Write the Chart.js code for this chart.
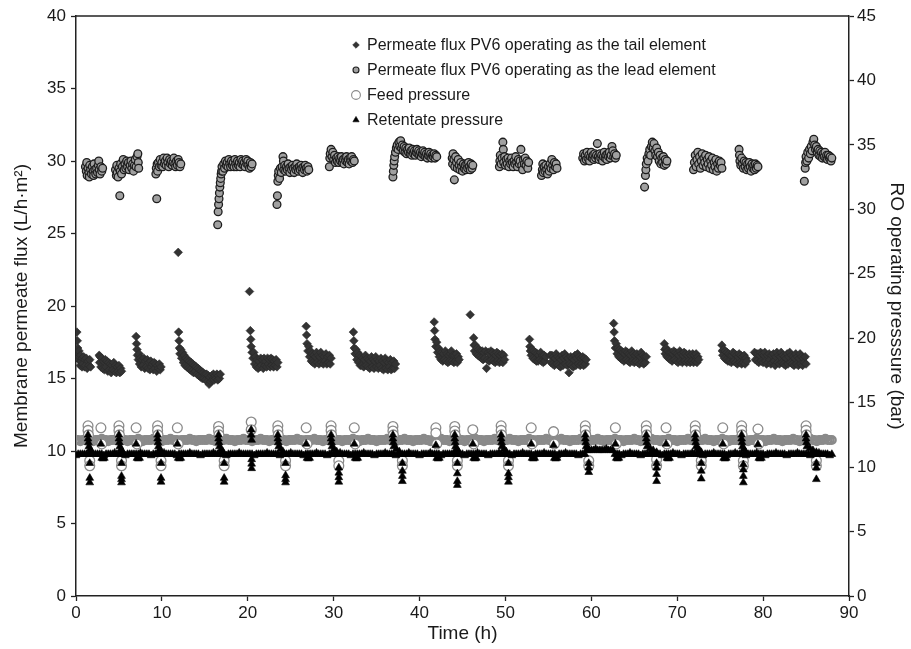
<!DOCTYPE html>
<html>
<head>
<meta charset="utf-8">
<script src="https://cdn.jsdelivr.net/npm/chart.js@4.4.1/dist/chart.umd.min.js"></script>
<style>
  html, body { margin: 0; padding: 0; background: #ffffff; }
  #wrap { width: 911px; height: 649px; }
</style>
</head>
<body>
<div id="wrap"><canvas id="chart" width="911" height="649"></canvas></div>
<script>
// Permeate flux of PV6, tail-element periods [hours, L/h·m²]
const tailFlux = [
  [0.1,18.2],[0.15,17.6],[0.2,17.1],[0.25,16.7],[0.3,16.3],[0.35,16.9],[0.4,16.5],[0.5,15.9],[0.55,16.6],[0.6,16.2],[0.7,15.8],[0.75,16.4],[0.8,16.0],[0.9,16.5],[1.0,15.8],[1.05,16.3],[1.1,15.9],[1.2,16.4],[1.3,15.7],[1.4,16.2],[1.5,15.9],[1.6,16.3],[1.7,15.8],
  [2.7,16.6],[2.75,16.1],[2.8,16.5],[2.9,15.8],[3.0,16.4],[3.1,15.7],[3.2,16.2],[3.3,15.6],[3.4,16.3],[3.5,15.8],[3.6,16.2],[3.7,15.5],[3.8,16.1],[3.9,15.6],[4.0,16.0],[4.1,15.4],[4.2,15.9],[4.3,15.6],[4.4,16.1],[4.5,15.5],[4.6,15.9],[4.7,15.4],[4.8,15.8],[4.9,15.5],[5.0,15.9],[5.1,15.4],[5.2,15.7],[5.3,15.5],
  [7.0,17.9],[7.05,17.4],[7.1,17.0],[7.15,16.6],[7.25,16.3],[7.35,16.7],[7.4,16.0],[7.5,16.4],[7.6,15.8],[7.7,16.3],[7.8,15.9],[7.9,16.4],[8.0,15.7],[8.1,16.2],[8.2,15.8],[8.3,16.3],[8.4,15.7],[8.5,16.1],[8.6,15.6],[8.7,16.2],[8.8,15.8],[8.9,16.0],[9.0,15.6],[9.1,16.1],[9.2,15.7],[9.3,16.0],[9.4,15.5],[9.5,15.9],[9.6,15.7],[9.7,16.0],[9.8,15.6],[9.9,15.8],
  [11.9,23.7],[11.95,18.2],[12.0,17.6],[12.05,17.1],[12.1,16.7],[12.2,17.0],[12.3,16.4],[12.4,16.8],[12.5,16.1],[12.6,16.6],[12.7,15.9],[12.8,16.4],[12.9,15.8],[13.0,16.3],[13.1,15.7],[13.2,16.2],[13.3,15.6],[13.4,16.1],[13.5,15.5],[13.6,16.0],[13.7,15.4],[13.8,15.9],[13.9,15.5],[14.0,15.8],[14.1,15.3],[14.2,15.7],[14.3,15.2],[14.4,15.6],[14.5,15.1],[14.6,15.5],[14.7,15.0],[14.8,15.4],[14.9,15.0],[15.0,15.3],[15.1,14.9],[15.2,15.3],[15.3,14.8],[15.4,15.2],[15.5,14.6],[15.6,15.1],[15.7,14.8],[15.8,15.2],[15.9,14.9],[16.0,15.3],[16.1,14.9],[16.2,15.2],[16.3,15.0],[16.4,15.3],[16.5,14.9],[16.6,15.2],[16.7,15.0],[16.8,15.3],
  [20.2,21.0],[20.3,18.3],[20.35,17.7],[20.4,17.2],[20.5,16.8],[20.6,16.4],[20.7,16.8],[20.8,16.0],[20.9,16.5],[21.0,15.8],[21.1,16.3],[21.2,15.7],[21.3,16.2],[21.4,15.8],[21.5,16.4],[21.6,15.9],[21.7,16.3],[21.8,15.7],[21.9,16.4],[22.0,15.9],[22.1,16.2],[22.2,15.8],[22.3,16.4],[22.4,16.0],[22.5,16.3],[22.6,15.8],[22.7,16.4],[22.8,15.9],[22.9,16.3],[23.0,15.8],[23.1,16.2],[23.2,15.9],[23.3,16.3],[23.4,15.8],[23.5,16.1],
  [26.8,18.6],[26.85,18.0],[26.9,17.4],[27.0,16.9],[27.1,17.2],[27.2,16.5],[27.3,16.9],[27.4,16.2],[27.5,16.7],[27.6,16.1],[27.7,16.6],[27.8,16.0],[27.9,16.5],[28.0,16.8],[28.1,16.1],[28.2,16.6],[28.3,16.0],[28.4,16.5],[28.5,16.8],[28.6,16.1],[28.7,16.6],[28.8,16.0],[28.9,16.5],[29.0,16.2],[29.1,16.7],[29.2,16.0],[29.3,16.5],[29.4,16.1],[29.5,16.6],[29.6,16.0],[29.7,16.4],
  [32.3,18.2],[32.35,17.6],[32.4,17.1],[32.5,16.7],[32.6,17.0],[32.7,16.3],[32.8,16.8],[32.9,16.1],[33.0,16.6],[33.1,15.9],[33.2,16.5],[33.3,15.9],[33.4,16.4],[33.5,15.8],[33.6,16.3],[33.7,16.6],[33.8,15.9],[33.9,16.4],[34.0,15.8],[34.1,16.3],[34.2,15.7],[34.3,16.2],[34.4,16.5],[34.5,15.8],[34.6,16.3],[34.7,15.7],[34.8,16.2],[34.9,16.5],[35.0,15.8],[35.1,16.3],[35.2,15.7],[35.3,16.2],[35.4,15.9],[35.5,16.4],[35.6,15.7],[35.7,16.2],[35.8,15.6],[35.9,16.1],[36.0,16.4],[36.1,15.7],[36.2,16.2],[36.3,15.6],[36.4,16.1],[36.5,15.8],[36.6,16.3],[36.7,15.6],[36.8,16.1],[36.9,15.7],[37.0,16.2],[37.1,15.7],[37.2,16.0],
  [41.7,18.9],[41.75,18.3],[41.8,17.7],[41.9,17.2],[42.0,17.5],[42.1,16.8],[42.2,17.1],[42.3,16.5],[42.4,16.9],[42.5,16.3],[42.6,16.8],[42.7,16.2],[42.8,16.7],[42.9,16.3],[43.0,16.9],[43.1,16.2],[43.2,16.7],[43.3,16.1],[43.4,16.6],[43.5,16.2],[43.6,16.7],[43.7,16.9],[43.8,16.2],[43.9,16.6],[44.0,16.1],[44.1,16.6],[44.2,16.2],[44.3,16.7],[44.4,16.1],[44.5,16.5],[44.6,16.3],
  [45.9,19.4],[46.3,17.8],[46.35,17.3],[46.4,16.9],[46.5,17.3],[46.6,16.7],[46.7,17.1],[46.8,16.6],[46.9,17.0],[47.0,16.5],[47.1,16.9],[47.2,16.4],[47.3,16.9],[47.4,16.3],[47.5,16.8],[47.6,16.4],[47.7,16.9],[47.8,15.7],[47.9,16.3],[48.0,16.8],[48.1,16.2],[48.2,16.7],[48.3,16.9],[48.4,16.3],[48.5,16.8],[48.6,16.2],[48.7,16.7],[48.8,16.1],[48.9,16.6],[49.0,16.8],[49.1,16.2],[49.2,16.7],[49.3,16.1],[49.4,16.6],[49.5,16.2],[49.6,16.7],[49.7,16.1],[49.8,16.6],[49.9,16.3],
  [52.8,17.7],[52.85,17.2],[52.9,16.9],[53.0,16.6],[53.1,17.0],[53.2,16.4],[53.3,16.9],[53.4,16.3],[53.5,16.8],[53.6,16.2],[53.7,16.7],[53.8,16.2],[53.9,16.6],[54.0,16.3],[54.1,16.8],[54.2,16.2],[54.3,16.6],[54.4,16.1],[54.5,16.6],[54.6,16.2],[54.7,16.5],
  [55.2,16.6],[55.3,16.1],[55.4,16.6],[55.5,16.0],[55.6,16.5],[55.7,15.9],[55.8,16.4],[55.9,16.7],[56.0,16.0],[56.1,16.5],[56.2,15.9],[56.3,16.4],[56.4,15.8],[56.5,16.3],[56.6,16.6],[56.7,15.9],[56.8,16.4],[56.9,16.7],[57.0,16.0],[57.1,16.5],[57.2,15.9],[57.3,16.4],[57.4,15.4],[57.5,16.0],[57.6,16.5],[57.7,15.9],[57.8,16.4],[57.9,15.8],[58.0,16.3],[58.1,16.6],[58.2,15.9],[58.3,16.4],[58.4,16.7],[58.5,16.0],[58.6,16.5],[58.7,15.9],[58.8,16.4],[58.9,16.0],[59.0,16.5],[59.1,15.9],[59.2,16.4],[59.3,16.0],[59.4,16.3],
  [62.6,18.8],[62.65,18.2],[62.7,17.6],[62.8,17.1],[62.9,17.4],[63.0,16.7],[63.1,17.1],[63.2,16.5],[63.3,17.0],[63.4,16.4],[63.5,16.9],[63.6,16.3],[63.7,16.8],[63.8,16.2],[63.9,16.7],[64.0,16.9],[64.1,16.3],[64.2,16.8],[64.3,16.2],[64.4,16.7],[64.5,16.1],[64.6,16.6],[64.7,16.9],[64.8,16.2],[64.9,16.7],[65.0,16.1],[65.1,16.6],[65.2,16.2],[65.3,16.7],[65.4,16.1],[65.5,16.6],[65.6,16.0],[65.7,16.5],[65.8,16.8],[65.9,16.1],[66.0,16.6],[66.1,16.0],[66.2,16.5],[66.3,16.1],[66.4,16.5],
  [68.5,17.4],[68.55,17.0],[68.6,16.7],[68.7,17.1],[68.8,16.5],[68.9,16.9],[69.0,16.4],[69.1,16.8],[69.2,16.3],[69.3,16.8],[69.4,16.2],[69.5,16.7],[69.6,16.9],[69.7,16.3],[69.8,16.8],[69.9,16.2],[70.0,16.7],[70.1,16.1],[70.2,16.6],[70.3,16.9],[70.4,16.2],[70.5,16.7],[70.6,16.1],[70.7,16.6],[70.8,16.8],[70.9,16.2],[71.0,16.7],[71.1,16.1],[71.2,16.6],[71.3,16.2],[71.4,16.7],[71.5,16.1],[71.6,16.6],[71.7,16.2],[71.8,16.7],[71.9,16.1],[72.0,16.6],[72.1,16.2],[72.2,16.7],[72.3,16.1],[72.4,16.5],[72.5,16.3],
  [75.2,17.3],[75.25,16.9],[75.3,16.6],[75.4,17.0],[75.5,16.4],[75.6,16.9],[75.7,16.3],[75.8,16.8],[75.9,16.2],[76.0,16.7],[76.1,16.2],[76.2,16.6],[76.3,16.1],[76.4,16.6],[76.5,16.8],[76.6,16.2],[76.7,16.7],[76.8,16.1],[76.9,16.6],[77.0,16.0],[77.1,16.5],[77.2,16.7],[77.3,16.1],[77.4,16.6],[77.5,16.0],[77.6,16.5],[77.7,16.1],[77.8,16.6],[77.9,16.0],[78.0,16.4],[78.1,16.2],
  [79.0,16.8],[79.1,16.3],[79.2,16.7],[79.3,16.2],[79.4,16.7],[79.5,16.1],[79.6,16.6],[79.7,16.8],[79.8,16.2],[79.9,16.7],[80.0,16.1],[80.1,16.6],[80.2,16.8],[80.3,16.2],[80.4,16.0],[80.5,16.6],[80.6,16.1],[80.7,16.7],[80.8,16.3],[80.9,16.0],[81.0,16.6],[81.1,16.1],[81.2,16.7],[81.3,16.2],[81.4,15.9],[81.5,16.5],[81.6,16.8],[81.7,16.1],[81.8,16.6],[81.9,16.0],[82.0,16.5],[82.1,16.8],[82.2,16.1],[82.3,16.6],[82.4,16.0],[82.5,16.5],[82.6,15.9],[82.7,16.4],[82.8,16.7],[82.9,16.0],[83.0,16.5],[83.1,16.8],[83.2,16.1],[83.3,16.6],[83.4,16.0],[83.5,16.5],[83.6,15.9],[83.7,16.4],[83.8,16.7],[83.9,16.0],[84.0,16.5],[84.1,15.9],[84.2,16.4],[84.3,16.7],[84.4,16.0],[84.5,16.5],[84.6,15.9],[84.7,16.4],[84.8,16.1],[84.9,16.5],[85.0,16.0]
];

// Permeate flux of PV6, lead-element periods [hours, L/h·m²]
const leadFlux = [
  [1.1,29.6],[1.2,29.3],[1.25,29.9],[1.3,29.0],[1.4,29.5],[1.5,29.2],[1.55,28.9],[1.6,29.7],[1.7,29.4],[1.8,29.1],[1.9,29.6],[2.0,29.3],[2.05,29.0],[2.1,29.8],[2.2,29.4],[2.3,29.1],[2.4,29.5],[2.5,29.2],[2.6,29.7],[2.65,30.0],[2.7,29.4],[2.8,29.1],[2.9,29.6],[3.0,29.3],[3.1,29.5],
  [4.6,29.4],[4.7,29.0],[4.75,29.7],[4.8,29.2],[4.9,28.9],[5.0,29.5],[5.1,27.6],[5.15,29.3],[5.2,29.8],[5.3,29.1],[5.4,29.6],[5.5,30.1],[5.6,29.4],[5.7,29.8],[5.8,29.5],[5.9,30.0],[6.0,29.6],[6.1,29.9],[6.2,29.4],[6.3,29.7],[6.4,30.0],[6.5,29.5],[6.6,29.8],[6.7,29.3],[6.8,29.7],[6.9,30.1],[7.0,29.6],[7.1,30.3],[7.2,30.5],[7.25,29.9],[7.3,29.5],
  [9.3,29.1],[9.35,29.5],[9.4,27.4],[9.45,29.8],[9.5,29.3],[9.6,29.9],[9.7,29.6],[9.8,30.1],[9.9,29.7],[10.0,29.9],[10.1,29.6],[10.2,30.2],[10.3,29.8],[10.4,30.0],[10.5,29.7],[10.6,30.2],[10.7,29.9],[10.8,29.6],[10.9,30.1],[11.0,29.8],[11.1,30.0],[11.2,29.7],[11.3,29.9],[11.4,30.2],[11.5,29.8],[11.6,29.6],[11.7,30.0],[11.8,29.7],[11.9,30.1],[12.0,29.9],[12.1,29.6],[12.2,29.8],
  [16.5,25.6],[16.55,26.5],[16.6,27.0],[16.65,27.4],[16.7,27.8],[16.75,28.2],[16.8,28.5],[16.85,28.8],[16.9,29.1],[16.95,29.3],[17.0,29.6],[17.1,29.3],[17.2,29.8],[17.3,29.5],[17.4,30.0],[17.5,29.7],[17.6,29.9],[17.7,29.6],[17.8,30.1],[17.9,29.8],[18.0,29.6],[18.1,30.0],[18.2,29.7],[18.3,29.9],[18.4,29.6],[18.5,30.1],[18.6,29.8],[18.7,29.6],[18.8,30.0],[18.9,29.7],[19.0,29.9],[19.1,29.6],[19.2,30.1],[19.3,29.8],[19.4,30.0],[19.5,29.7],[19.6,29.9],[19.7,29.6],[19.8,30.1],[19.9,29.8],[20.0,30.0],[20.1,29.7],[20.2,29.5],[20.3,29.9],[20.4,29.6],[20.5,29.8],
  [23.4,27.0],[23.45,27.6],[23.5,28.6],[23.55,29.0],[23.6,29.3],[23.7,28.8],[23.8,29.5],[23.9,29.2],[24.0,29.6],[24.1,30.3],[24.15,30.0],[24.2,29.4],[24.3,29.7],[24.4,29.3],[24.5,29.6],[24.6,29.4],[24.7,29.8],[24.8,29.5],[24.9,29.2],[25.0,29.6],[25.1,29.4],[25.2,29.7],[25.3,29.5],[25.4,29.2],[25.5,29.6],[25.6,29.4],[25.7,29.8],[25.8,29.5],[25.9,29.3],[26.0,29.6],[26.1,29.4],[26.2,29.7],[26.3,29.5],[26.4,29.2],[26.5,29.6],[26.6,29.4],[26.7,29.7],[26.8,29.5],[26.9,29.3],[27.0,29.6],[27.1,29.4],
  [29.5,29.6],[29.55,30.2],[29.6,30.5],[29.7,30.8],[29.8,30.3],[29.9,30.6],[30.0,30.1],[30.1,30.4],[30.2,29.9],[30.3,30.2],[30.4,30.0],[30.5,30.3],[30.6,29.9],[30.7,30.2],[30.8,30.0],[30.9,30.3],[31.0,29.9],[31.1,30.1],[31.2,29.8],[31.3,30.2],[31.4,30.0],[31.5,30.3],[31.6,29.9],[31.7,30.1],[31.8,29.8],[31.9,30.2],[32.0,30.0],[32.1,30.3],[32.2,29.9],[32.3,30.1],[32.4,30.0],
  [36.9,28.9],[36.95,29.3],[37.0,29.7],[37.05,30.0],[37.1,30.3],[37.2,30.6],[37.3,30.9],[37.4,31.1],[37.5,30.8],[37.6,31.3],[37.7,31.0],[37.8,31.4],[37.9,30.9],[38.0,31.1],[38.1,30.7],[38.2,31.0],[38.3,30.6],[38.4,30.9],[38.5,30.5],[38.6,30.8],[38.7,30.6],[38.8,30.9],[38.9,30.5],[39.0,30.7],[39.1,30.4],[39.2,30.8],[39.3,30.5],[39.4,30.7],[39.5,30.4],[39.6,30.6],[39.7,30.8],[39.8,30.5],[39.9,30.7],[40.0,30.4],[40.1,30.6],[40.2,30.3],[40.3,30.5],[40.4,30.7],[40.5,30.4],[40.6,30.6],[40.7,30.3],[40.8,30.5],[40.9,30.2],[41.0,30.4],[41.1,30.6],[41.2,30.3],[41.3,30.5],[41.4,30.2],[41.5,30.4],[41.6,30.3],[41.7,30.5],[41.8,30.2],[41.9,30.4],[42.0,30.3],
  [43.8,30.2],[43.85,29.8],[43.9,30.5],[44.0,30.1],[44.05,28.7],[44.1,29.6],[44.2,30.3],[44.3,29.9],[44.4,29.5],[44.5,30.1],[44.6,29.7],[44.7,29.4],[44.8,29.9],[44.9,29.6],[45.0,29.3],[45.1,29.8],[45.2,29.5],[45.3,29.7],[45.4,29.4],[45.5,29.8],[45.6,29.5],[45.7,29.9],[45.8,29.6],[45.9,29.4],[46.0,29.8],[46.1,29.5],[46.2,29.7],
  [49.3,29.6],[49.35,30.0],[49.4,30.4],[49.5,29.8],[49.6,30.2],[49.7,31.3],[49.75,30.8],[49.8,29.9],[49.9,30.3],[50.0,29.7],[50.1,30.1],[50.2,29.8],[50.3,30.2],[50.4,29.6],[50.5,30.0],[50.6,29.8],[50.7,30.2],[50.8,29.9],[50.9,29.6],[51.0,30.0],[51.1,29.8],[51.2,30.3],[51.3,29.9],[51.4,29.6],[51.5,30.1],[51.6,29.8],[51.7,30.0],[51.8,30.8],[51.9,29.7],[52.0,29.4],[52.1,30.1],[52.2,29.8],[52.3,30.2],[52.4,29.7],[52.5,30.0],[52.6,29.5],[52.7,29.9],
  [54.2,29.0],[54.3,29.4],[54.35,29.8],[54.4,29.2],[54.5,29.6],[54.6,29.3],[54.7,29.7],[54.8,29.4],[54.9,29.1],[55.0,29.6],[55.1,29.3],[55.2,29.8],[55.3,29.5],[55.4,30.1],[55.5,29.7],[55.6,29.4],[55.7,29.9],[55.8,29.6],[55.9,29.8],[56.0,29.5],
  [59.0,30.2],[59.1,30.5],[59.2,30.0],[59.3,30.4],[59.4,30.1],[59.5,30.6],[59.6,30.2],[59.7,30.4],[59.8,30.0],[59.9,30.3],[60.0,30.6],[60.1,30.2],[60.2,30.4],[60.3,30.1],[60.4,30.5],[60.5,30.2],[60.6,30.4],[60.7,31.2],[60.8,30.3],[60.9,30.1],[61.0,30.5],[61.1,30.2],[61.2,30.4],[61.3,30.0],[61.4,30.3],[61.5,30.6],[61.6,30.2],[61.7,30.4],[61.8,30.1],[61.9,30.5],[62.0,30.3],[62.1,30.6],[62.2,30.2],[62.3,30.4],[62.4,31.0],[62.5,30.7],[62.6,30.3],[62.7,30.5],[62.8,30.2],[62.9,30.4],
  [66.2,28.2],[66.3,29.0],[66.35,29.4],[66.4,29.8],[66.5,30.2],[66.6,30.0],[66.7,30.5],[66.8,30.8],[66.9,30.4],[67.0,31.0],[67.1,31.3],[67.2,30.9],[67.3,31.2],[67.4,30.7],[67.5,30.4],[67.6,30.9],[67.7,30.3],[67.8,30.6],[67.9,30.0],[68.0,30.4],[68.1,29.8],[68.2,30.2],[68.3,29.9],[68.4,30.3],[68.5,29.7],[68.6,30.1],[68.7,29.8],[68.8,30.0],
  [71.9,29.4],[72.0,29.9],[72.1,30.4],[72.2,29.6],[72.3,30.1],[72.4,30.6],[72.5,29.8],[72.6,30.3],[72.7,29.5],[72.8,30.0],[72.9,30.5],[73.0,29.7],[73.1,30.2],[73.2,29.9],[73.3,30.4],[73.4,29.6],[73.5,30.1],[73.6,29.8],[73.7,30.3],[73.8,29.5],[73.9,30.0],[74.0,29.7],[74.1,30.2],[74.2,29.4],[74.3,29.9],[74.4,29.6],[74.5,30.1],[74.6,29.3],[74.7,29.8],[74.8,29.5],[74.9,30.0],[75.0,29.7],[75.1,29.9],[75.2,29.5],
  [77.2,30.8],[77.25,30.4],[77.3,30.0],[77.4,29.7],[77.5,30.2],[77.6,29.8],[77.7,29.5],[77.8,30.0],[77.9,29.6],[78.0,29.9],[78.1,29.4],[78.2,29.8],[78.3,29.5],[78.4,29.9],[78.5,29.6],[78.6,29.3],[78.7,29.8],[78.8,29.5],[78.9,29.7],[79.0,29.4],[79.1,29.8],[79.2,29.5],[79.3,29.7],[79.4,29.6],
  [84.8,28.6],[84.9,29.5],[84.95,29.9],[85.0,30.3],[85.1,30.0],[85.2,30.6],[85.3,30.2],[85.4,30.8],[85.5,30.5],[85.6,31.0],[85.7,30.7],[85.8,31.3],[85.9,31.5],[86.0,31.1],[86.1,30.8],[86.2,31.0],[86.3,30.6],[86.4,30.8],[86.5,30.4],[86.6,30.7],[86.7,30.3],[86.8,30.6],[86.9,30.2],[87.0,30.5],[87.1,30.3],[87.2,30.6],[87.3,30.2],[87.4,30.4],[87.5,30.1],[87.6,30.4],[87.7,30.2],[87.8,30.3],[87.9,30.0],[88.0,30.2]
];

// Logged pressure readings, every 15 min [hours]
const sampleHours = [
  0,0.25,0.5,0.75,1,1.25,1.5,1.75,2,2.25,2.5,2.75,3,3.25,3.5,3.75,4,4.25,4.5,4.75,
  5,5.25,5.5,5.75,6,6.25,6.5,6.75,7,7.25,7.5,7.75,8,8.25,8.5,8.75,9,9.25,9.5,9.75,
  10,10.25,10.5,10.75,11,11.25,11.5,11.75,12,12.25,12.5,12.75,13,13.25,13.5,13.75,14,14.25,14.5,14.75,
  15,15.25,15.5,15.75,16,16.25,16.5,16.75,17,17.25,17.5,17.75,18,18.25,18.5,18.75,19,19.25,19.5,19.75,
  20,20.25,20.5,20.75,21,21.25,21.5,21.75,22,22.25,22.5,22.75,23,23.25,23.5,23.75,24,24.25,24.5,24.75,
  25,25.25,25.5,25.75,26,26.25,26.5,26.75,27,27.25,27.5,27.75,28,28.25,28.5,28.75,29,29.25,29.5,29.75,
  30,30.25,30.5,30.75,31,31.25,31.5,31.75,32,32.25,32.5,32.75,33,33.25,33.5,33.75,34,34.25,34.5,34.75,
  35,35.25,35.5,35.75,36,36.25,36.5,36.75,37,37.25,37.5,37.75,38,38.25,38.5,38.75,39,39.25,39.5,39.75,
  40,40.25,40.5,40.75,41,41.25,41.5,41.75,42,42.25,42.5,42.75,43,43.25,43.5,43.75,44,44.25,44.5,44.75,
  45,45.25,45.5,45.75,46,46.25,46.5,46.75,47,47.25,47.5,47.75,48,48.25,48.5,48.75,49,49.25,49.5,49.75,
  50,50.25,50.5,50.75,51,51.25,51.5,51.75,52,52.25,52.5,52.75,53,53.25,53.5,53.75,54,54.25,54.5,54.75,
  55,55.25,55.5,55.75,56,56.25,56.5,56.75,57,57.25,57.5,57.75,58,58.25,58.5,58.75,59,59.25,59.5,59.75,
  60,60.25,60.5,60.75,61,61.25,61.5,61.75,62,62.25,62.5,62.75,63,63.25,63.5,63.75,64,64.25,64.5,64.75,
  65,65.25,65.5,65.75,66,66.25,66.5,66.75,67,67.25,67.5,67.75,68,68.25,68.5,68.75,69,69.25,69.5,69.75,
  70,70.25,70.5,70.75,71,71.25,71.5,71.75,72,72.25,72.5,72.75,73,73.25,73.5,73.75,74,74.25,74.5,74.75,
  75,75.25,75.5,75.75,76,76.25,76.5,76.75,77,77.25,77.5,77.75,78,78.25,78.5,78.75,79,79.25,79.5,79.75,
  80,80.25,80.5,80.75,81,81.25,81.5,81.75,82,82.25,82.5,82.75,83,83.25,83.5,83.75,84,84.25,84.5,84.75,
  85,85.25,85.5,85.75,86,86.25,86.5,86.75,87,87.25,87.5,87.75,88
];

// Feed pressure at the logged times [bar]
const feedPressure = [
  12.1,12.1,12.0,12.1,12.1,12.2,12.1,12.1,12.0,12.1,12.1,12.1,12.2,12.1,12.1,12.0,12.1,12.1,12.1,12.1,
  12.1,12.2,12.1,12.1,12.0,12.1,12.1,12.1,12.1,12.2,12.1,12.0,12.1,12.1,12.1,12.1,12.2,12.1,12.1,12.1,
  12.0,12.1,12.1,12.1,12.2,12.1,12.1,12.1,12.0,12.1,12.1,12.1,12.1,12.2,12.1,12.1,12.0,12.1,12.1,12.1,
  12.1,12.1,12.2,12.1,12.1,12.0,12.1,12.1,12.1,12.1,12.2,12.1,12.1,12.1,12.0,12.1,12.1,12.1,12.2,12.1,
  12.1,12.1,12.0,12.1,12.1,12.1,12.2,12.1,12.1,12.1,12.0,12.1,12.1,12.1,12.1,12.2,12.1,12.1,12.0,12.1,
  12.1,12.1,12.1,12.2,12.1,12.1,12.0,12.1,12.1,12.1,12.1,12.2,12.1,12.1,12.1,12.0,12.1,12.1,12.1,12.1,
  12.2,12.1,12.1,12.1,12.0,12.1,12.1,12.1,12.1,12.2,12.1,12.1,12.0,12.1,12.1,12.1,12.2,12.1,12.1,12.1,
  12.0,12.1,12.1,12.1,12.1,12.2,12.1,12.1,12.1,12.0,12.1,12.1,12.1,12.2,12.1,12.1,12.1,12.0,12.1,12.1,
  12.1,12.1,12.2,12.1,12.1,12.0,12.1,12.1,12.1,12.1,12.2,12.1,12.1,12.1,12.0,12.1,12.1,12.1,12.2,12.1,
  12.1,12.0,12.1,12.1,12.1,12.1,12.2,12.1,12.1,12.1,12.0,12.1,12.1,12.1,12.1,12.2,12.1,12.1,12.0,12.1,
  12.1,12.1,12.2,12.1,12.1,12.1,12.0,12.1,12.1,12.1,12.1,12.2,12.1,12.1,12.0,12.1,12.1,12.1,12.1,12.2,
  12.1,12.1,12.0,12.1,12.1,12.1,12.2,12.1,12.1,12.1,12.0,12.1,12.1,12.1,12.1,12.2,12.1,12.1,12.1,12.0,
  12.1,12.1,12.1,12.2,12.1,12.1,12.0,12.1,12.1,12.1,12.1,12.2,12.1,12.1,12.1,12.0,12.1,12.1,12.1,12.1,
  12.2,12.1,12.1,12.0,12.1,12.1,12.1,12.1,12.2,12.1,12.1,12.1,12.0,12.1,12.1,12.1,12.2,12.1,12.1,12.1,
  12.0,12.1,12.1,12.1,12.1,12.2,12.1,12.1,12.1,12.0,12.1,12.1,12.1,12.2,12.1,12.1,12.1,12.0,12.1,12.1,
  12.1,12.2,12.1,12.1,12.0,12.1,12.1,12.1,12.1,12.2,12.1,12.1,12.1,12.0,12.1,12.1,12.1,12.2,12.1,12.1,
  12.1,12.0,12.1,12.1,12.1,12.2,12.1,12.1,12.1,12.0,12.1,12.1,12.1,12.1,12.2,12.1,12.1,12.0,12.1,12.1,
  12.1,12.1,12.2,12.1,12.1,12.0,12.1,12.1,12.1,12.2,12.1,12.1,12.1
];

// Retentate pressure at the logged times [bar]
const retentatePressure = [
  10.9,11.0,11.0,11.0,11.0,11.0,11.0,11.1,11.0,11.0,11.0,11.0,11.0,10.9,11.0,11.0,11.0,11.0,11.1,11.0,
  11.0,11.0,11.0,10.9,11.0,11.0,11.0,11.0,11.0,11.0,11.1,11.0,11.0,11.0,11.0,10.9,11.0,11.0,11.0,11.0,
  11.0,11.1,11.0,11.0,11.0,11.0,11.0,10.9,11.0,11.0,11.0,11.0,11.0,11.1,11.0,11.0,11.0,11.0,10.9,11.0,
  11.0,11.0,11.0,11.0,11.1,11.0,11.0,11.0,11.0,11.0,10.9,11.0,11.0,11.0,11.0,11.0,11.1,11.0,11.0,11.0,
  11.0,11.0,11.0,10.9,11.0,11.0,11.0,11.0,11.0,11.1,11.0,11.0,11.0,11.0,11.0,10.9,11.0,11.0,11.0,11.0,
  11.1,11.0,11.0,11.0,11.0,11.0,10.9,11.0,11.0,11.0,11.0,11.0,11.1,11.0,11.0,11.0,11.0,10.9,11.0,11.0,
  11.0,11.0,11.0,11.1,11.0,11.0,11.0,11.0,10.9,11.0,11.0,11.0,11.0,11.0,11.1,11.0,11.0,11.0,11.0,10.9,
  11.0,11.0,11.0,11.0,11.1,11.0,11.0,11.0,11.0,10.9,11.0,11.0,11.0,11.0,11.0,11.1,11.0,11.0,11.0,11.0,
  10.9,11.0,11.0,11.0,11.0,11.1,11.0,11.0,11.0,11.0,10.9,11.0,11.0,11.0,11.0,11.0,11.1,11.0,11.0,11.0,
  11.0,10.9,11.0,11.0,11.0,11.0,11.0,11.1,11.0,11.0,11.0,11.0,10.9,11.0,11.0,11.0,11.0,11.1,11.0,11.0,
  11.0,11.0,11.0,10.9,11.0,11.0,11.0,11.0,11.1,11.0,11.0,11.0,11.0,10.9,11.0,11.0,11.0,11.0,11.1,11.0,
  11.0,11.0,11.0,11.0,10.9,11.0,11.0,11.0,11.1,11.0,11.0,11.0,11.0,11.0,10.9,11.0,11.0,11.0,11.3,11.3,
  11.3,11.3,11.4,11.3,11.3,11.3,11.3,11.4,11.3,11.3,11.3,11.0,11.0,11.0,10.9,11.0,11.0,11.0,11.1,11.0,
  11.0,11.0,11.0,10.9,11.0,11.0,11.0,11.0,11.1,11.0,11.0,11.0,11.0,10.9,11.0,11.0,11.0,11.0,11.1,11.0,
  11.0,11.0,10.9,11.0,11.0,11.0,11.0,11.1,11.0,11.0,11.0,11.0,10.9,11.0,11.0,11.0,11.0,11.1,11.0,11.0,
  11.0,11.0,11.0,10.9,11.0,11.0,11.0,11.1,11.0,11.0,11.0,11.0,10.9,11.0,11.0,11.0,11.0,11.1,11.0,11.0,
  11.0,10.9,11.0,11.0,11.0,11.0,11.1,11.0,11.0,11.0,11.0,10.9,11.0,11.0,11.0,11.0,11.1,11.0,11.0,11.0,
  11.0,11.0,10.9,11.0,11.0,11.0,11.1,11.0,11.0,11.0,11.0,10.9,11.0
];

// Extra feed readings taken at element switch-over [hours, bar]
const feedSwitchReadings = [
  [1.4,13.2],[1.4,12.85],[1.45,12.5],[1.6,10.5],[1.6,10.1],
  [5.0,13.2],[5.0,12.85],[5.05,12.5],[5.3,10.5],[5.3,10.1],
  [9.5,13.2],[9.5,12.85],[9.55,12.5],[9.9,10.5],[9.9,10.1],
  [16.6,13.15],[16.6,12.8],[16.65,12.5],[17.25,10.5],[17.25,10.1],
  [23.5,13.2],[23.5,12.85],[23.55,12.5],[24.4,10.5],[24.4,10.1],
  [29.7,13.2],[29.7,12.85],[29.75,12.5],[30.6,10.5],[30.6,10.1],
  [36.9,13.15],[36.9,12.8],[36.95,12.5],[38.0,10.5],[38.0,10.1],
  [44.1,13.15],[44.1,12.8],[44.15,12.5],[44.4,10.5],[44.4,10.1],
  [49.5,13.2],[49.5,12.85],[49.55,12.5],[50.35,10.5],[50.35,10.1],
  [59.3,13.2],[59.3,12.85],[59.35,12.5],[59.7,10.5],[59.7,10.1],
  [66.4,13.2],[66.4,12.85],[66.45,12.5],[67.6,10.6],[67.6,10.1],
  [72.1,13.2],[72.1,12.85],[72.15,12.5],[72.8,10.5],[72.8,10.1],
  [77.5,13.2],[77.5,12.85],[77.55,12.5],[77.7,10.5],[77.7,10.1],
  [85.0,13.2],[85.0,12.85],[85.05,12.5],[86.2,10.5],[86.2,10.1],
  [2.9,13.05],[3.0,11.8],[7.0,13.05],[7.1,11.8],[11.8,13.05],[11.9,11.8],
  [20.4,13.5],[20.4,12.9],[26.8,13.05],[26.9,11.8],[32.4,13.05],[32.5,11.8],
  [41.9,13.05],[41.9,12.65],[42.0,11.8],[46.2,12.9],[46.3,11.8],[53.0,13.05],[53.1,11.8],
  [55.6,12.75],[55.7,11.8],[62.8,13.05],[62.9,11.8],[68.7,13.05],[68.8,11.8],
  [75.3,13.05],[75.4,11.8],[79.4,12.95],[79.5,11.8]
];

// Extra retentate readings taken at element switch-over [hours, bar]
const retentateSwitchReadings = [
  [1.4,12.5],[1.4,12.2],[1.45,11.9],[1.5,11.6],[1.65,11.4],[1.8,11.2],[1.6,10.3],[1.6,9.15],[1.6,8.8],
  [5.0,12.5],[5.0,12.2],[5.05,11.9],[5.1,11.6],[5.25,11.4],[5.4,11.2],[5.3,10.3],[5.3,9.3],[5.3,9.05],[5.3,8.8],
  [9.5,12.5],[9.5,12.2],[9.55,11.9],[9.6,11.6],[9.75,11.4],[9.9,11.2],[9.9,10.3],[9.9,9.15],[9.9,8.85],
  [16.6,12.5],[16.6,12.2],[16.65,11.9],[16.7,11.6],[16.9,11.4],[17.1,11.2],[17.25,10.3],[17.25,9.15],[17.25,8.85],
  [23.5,12.5],[23.5,12.2],[23.55,11.9],[23.6,11.6],[23.85,11.4],[24.1,11.2],[24.4,10.3],[24.4,9.35],[24.4,9.05],[24.4,8.8],
  [29.7,12.5],[29.7,12.2],[29.75,11.9],[29.8,11.6],[30.05,11.4],[30.35,11.2],[30.6,9.95],[30.6,9.55],[30.6,9.2],[30.6,8.85],
  [36.9,12.5],[36.9,12.2],[36.95,11.9],[37.0,11.6],[37.3,11.4],[37.65,11.2],[38.0,10.3],[38.0,9.7],[38.0,9.3],[38.0,8.9],
  [44.1,12.5],[44.1,12.2],[44.15,11.9],[44.2,11.6],[44.35,11.4],[44.55,11.2],[44.4,10.3],[44.4,9.5],[44.4,8.9],[44.4,8.6],
  [49.5,12.5],[49.5,12.2],[49.55,11.9],[49.6,11.6],[49.85,11.4],[50.1,11.2],[50.35,10.3],[50.35,9.5],[50.35,9.2],[50.35,8.85],
  [59.3,12.5],[59.3,12.2],[59.35,11.9],[59.4,11.6],[59.55,11.45],[59.7,11.35],[59.7,10.3],[59.7,9.95],[59.7,9.6],
  [66.4,12.5],[66.4,12.2],[66.45,11.9],[66.5,11.6],[66.85,11.45],[67.2,11.3],[67.6,11.15],[67.6,10.3],[67.6,9.95],[67.6,9.45],[67.6,8.9],
  [72.1,12.5],[72.1,12.2],[72.15,11.9],[72.2,11.6],[72.4,11.45],[72.6,11.3],[72.8,11.15],[72.8,10.3],[72.8,9.7],[72.8,9.1],
  [77.5,12.5],[77.5,12.2],[77.55,11.9],[77.6,11.6],[77.75,11.4],[77.95,11.2],[77.7,10.2],[77.7,9.8],[77.7,9.3],[77.7,8.8],
  [85.0,12.5],[85.0,12.2],[85.05,11.9],[85.1,11.6],[85.45,11.45],[85.8,11.3],[86.2,11.15],[86.2,10.3],[86.2,9.95],[86.2,9.05],
  [2.9,11.8],[3.0,10.7],[3.15,10.65],[3.3,10.7],
  [7.0,11.8],[7.1,10.7],[7.25,10.65],[7.4,10.7],
  [11.8,11.8],[11.9,10.7],[12.05,10.65],[12.2,10.7],
  [20.4,12.9],[20.4,12.5],[20.45,12.1],[20.45,10.6],[20.45,10.25],[20.45,9.9],
  [26.8,11.8],[26.9,10.7],[27.05,10.65],[27.2,10.7],
  [32.4,11.8],[32.5,10.7],[32.65,10.65],[32.8,10.7],
  [41.9,11.7],[42.0,10.7],[42.15,10.65],[42.3,10.7],
  [46.2,11.8],[46.3,10.7],[46.45,10.65],[46.6,10.7],
  [53.0,11.8],[53.1,10.7],[53.25,10.65],[53.4,10.7],
  [55.6,11.7],[55.7,10.7],[55.85,10.65],[56.0,10.7],
  [62.8,11.8],[62.9,10.7],[63.05,10.65],[63.2,10.7],
  [68.7,11.8],[68.8,10.7],[68.95,10.65],[69.1,10.7],
  [75.3,11.8],[75.4,10.7],[75.55,10.65],[75.7,10.7],
  [79.4,11.75],[79.5,10.7],[79.65,10.65],[79.8,10.7]
];

const timeTicks = [0, 10, 20, 30, 40, 50, 60, 70, 80, 90];
const legendLabels = [
  'Permeate flux PV6 operating as the tail element',
  'Permeate flux PV6 operating as the lead element',
  'Feed pressure',
  'Retentate pressure'
];

const FONT = "'Liberation Sans', Arial, Helvetica, sans-serif";
const INK = '#1a1a1a';
const pairs = arr => arr.map(p => ({ x: p[0], y: p[1] }));
const logged = vals => sampleHours.map((t, i) => ({ x: t, y: vals[i] }));

const tailStyle = { pointStyle: 'rectRot', pointRadius: 4.3, pointBackgroundColor: '#333333', pointBorderColor: '#2a2a2a', pointBorderWidth: 0.6 };
const leadStyle = { pointStyle: 'circle', pointRadius: 3.9, pointBackgroundColor: '#a0a0a0', pointBorderColor: '#1c1c1c', pointBorderWidth: 1.3 };
const feedStyle = { pointStyle: 'circle', pointRadius: 4.9, pointBackgroundColor: '#ffffff', pointBorderColor: '#8a8a8a', pointBorderWidth: 1.3 };
const retStyle = { pointStyle: 'triangle', pointRadius: 4.5, pointBackgroundColor: '#000000', pointBorderColor: '#000000', pointBorderWidth: 0.6 };

// Legend inside the plot (top centre) and the top frame line
const insideLegend = {
  id: 'insideLegend',
  afterDatasetsDraw(chart) {
    const { ctx, chartArea } = chart;
    ctx.save();
    ctx.strokeStyle = '#222';
    ctx.lineWidth = 1.5;
    ctx.beginPath();
    ctx.moveTo(chartArea.left, chartArea.top);
    ctx.lineTo(chartArea.right, chartArea.top);
    ctx.stroke();

    const rows = [
      { style: tailStyle, r: 3.3 },
      { style: leadStyle, r: 3.0 },
      { style: feedStyle, r: 4.4 },
      { style: retStyle, r: 3.6 }
    ];
    const mx = 356, tx = 367, y0 = 45, gap = 25;
    rows.forEach((row, i) => {
      const y = y0 + i * gap;
      ctx.fillStyle = row.style.pointBackgroundColor;
      ctx.strokeStyle = row.style.pointBorderColor;
      ctx.lineWidth = Math.min(row.style.pointBorderWidth, 1.1);
      Chart.helpers.drawPoint(ctx, { pointStyle: row.style.pointStyle, radius: row.r, rotation: 0, borderWidth: ctx.lineWidth }, mx, y);
      ctx.fillStyle = INK;
      ctx.font = '16px ' + FONT;
      ctx.textBaseline = 'middle';
      ctx.textAlign = 'left';
      ctx.fillText(legendLabels[i], tx, y + 1);
    });
    ctx.restore();
  }
};

const axisLook = {
  grid: { drawOnChartArea: false, drawTicks: true, tickLength: 5, color: '#222', tickWidth: 1.3 },
  border: { display: true, color: '#222', width: 1.5 },
  ticks: { color: INK, font: { family: FONT, size: 17 } }
};

new Chart(document.getElementById('chart'), {
  type: 'scatter',
  data: {
    datasets: [
      Object.assign({ label: 'Retentate pressure', data: pairs(retentateSwitchReadings), yAxisID: 'y2' }, retStyle),
      Object.assign({ label: 'Retentate pressure (log)', data: logged(retentatePressure), yAxisID: 'y2' }, retStyle),
      Object.assign({ label: 'Feed pressure', data: pairs(feedSwitchReadings), yAxisID: 'y2' }, feedStyle),
      Object.assign({ label: 'Feed pressure (log)', data: logged(feedPressure), yAxisID: 'y2' }, feedStyle,
        { pointRadius: 3.8, pointBorderWidth: 2.4, pointBackgroundColor: 'rgba(0,0,0,0)' }),
      Object.assign({ label: legendLabels[1], data: pairs(leadFlux), yAxisID: 'y' }, leadStyle),
      Object.assign({ label: legendLabels[0], data: pairs(tailFlux), yAxisID: 'y' }, tailStyle)
    ]
  },
  options: {
    responsive: false,
    devicePixelRatio: 1,
    animation: false,
    events: [],
    layout: { padding: { top: 16, left: 0, right: 0, bottom: 0 } },
    plugins: { legend: { display: false }, tooltip: { enabled: false } },
    scales: {
      x: Object.assign({}, axisLook, {
        type: 'linear', position: 'bottom', min: 0, max: 90,
        afterBuildTicks: s => { s.ticks = timeTicks.map(v => ({ value: v })); },
        afterFit: s => { s.height = 53; },
        ticks: Object.assign({}, axisLook.ticks, { padding: 2 }),
        title: { display: true, text: 'Time (h)', color: INK, font: { family: FONT, size: 19 }, padding: { top: 0, bottom: 4 } }
      }),
      y: Object.assign({}, axisLook, {
        type: 'linear', position: 'left', min: 0, max: 40,
        ticks: Object.assign({}, axisLook.ticks, { stepSize: 5, padding: 5 }),
        afterFit: s => { s.width = 76; },
        title: { display: true, text: 'Membrane permeate flux (L/h·m²)', color: INK, font: { family: FONT, size: 19 }, padding: { top: 10, bottom: 0 } }
      }),
      y2: Object.assign({}, axisLook, {
        type: 'linear', position: 'right', min: 0, max: 45,
        ticks: Object.assign({}, axisLook.ticks, { stepSize: 5, padding: 3 }),
        afterFit: s => { s.width = 62; },
        title: { display: true, text: 'RO operating presssure (bar)', color: INK, font: { family: FONT, size: 19 }, padding: { top: 3, bottom: 0 } }
      })
    }
  },
  plugins: [insideLegend]
});
</script>
</body>
</html>
